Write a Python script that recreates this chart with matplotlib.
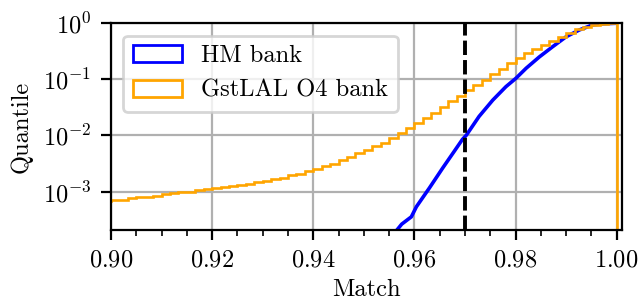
import numpy as np
import matplotlib
matplotlib.use("Agg")
import matplotlib.pyplot as plt
from matplotlib.patches import Patch
from matplotlib.ticker import MultipleLocator, NullLocator

plt.rcParams.update({
    "font.family": "serif",
    "font.serif": ["cmr10"],
    "mathtext.fontset": "cm",
    "axes.formatter.use_mathtext": True,
    "font.size": 8.8,
})

# GstLAL O4 bank: cumulative quantile per match bin (bins of width 1/600)
gstlal_bin_edges = np.linspace(0.9 - 2 / 600, 1.0, 63)
gstlal_quantile = [
    6.5e-4, 6.8e-4,
    7.1e-4, 7.2e-4, 7.6e-4, 7.9e-4, 8.1e-4, 8.5e-4, 8.9e-4, 9.3e-4, 9.8e-4, 1.00e-3,
    1.05e-3, 1.10e-3, 1.15e-3, 1.20e-3, 1.26e-3, 1.32e-3, 1.38e-3, 1.48e-3, 1.55e-3, 1.66e-3,
    1.78e-3, 1.95e-3, 2.09e-3, 2.29e-3, 2.51e-3, 2.82e-3, 3.16e-3, 3.63e-3, 4.17e-3, 4.90e-3,
    5.62e-3, 6.46e-3, 7.41e-3, 8.91e-3, 1.10e-2, 1.35e-2, 1.66e-2, 2.04e-2, 2.51e-2, 3.24e-2,
    4.17e-2, 5.01e-2, 6.46e-2, 7.94e-2, 9.77e-2, 0.123, 0.155, 0.195, 0.240, 0.295,
    0.347, 0.417, 0.490, 0.575, 0.676, 0.776, 0.861, 0.933, 0.977, 1.0,
]

# HM bank: cumulative quantile
hm_match = [0.9560, 0.9565, 0.9575, 0.9594, 0.9604, 0.9630, 0.9656, 0.9679, 0.9695, 0.9703,
            0.9728, 0.9755, 0.9781, 0.9801, 0.9821, 0.9847, 0.9873, 0.9900, 0.9926, 0.9952,
            0.9972, 0.9997]
hm_quantile = [1.78e-4, 2.04e-4, 2.63e-4, 3.55e-4, 5.37e-4, 1.17e-3, 2.63e-3, 5.25e-3, 8.51e-3, 1.02e-2,
               2.19e-2, 4.27e-2, 7.41e-2, 0.105, 0.158, 0.251, 0.380, 0.575, 0.759, 0.933,
               0.977, 1.0]

match_threshold = 0.97
series_labels = ["HM bank", "GstLAL O4 bank"]
series_colors = ["blue", "orange"]

fig = plt.figure(figsize=(3.2, 1.505), dpi=200)
ax = fig.add_axes([0.1734, 0.2349, 0.798, 0.6877])

ax.plot(hm_match, hm_quantile, color=series_colors[0], lw=1.3)
ax.hist(gstlal_bin_edges[:-1], bins=gstlal_bin_edges, weights=gstlal_quantile,
        histtype="step", color=series_colors[1], lw=0.95, log=True)
ax.axvline(match_threshold, color="black", ls=(0, (3.7, 1.3)), lw=1.4)

ax.set_yscale("log", nonpositive="clip")
ax.set_xlim(0.9, 1.001)
ax.set_ylim(10 ** -3.69, 1.0)
ax.xaxis.set_major_locator(MultipleLocator(0.02))
ax.xaxis.set_minor_locator(MultipleLocator(0.005))
ax.yaxis.set_minor_locator(NullLocator())
ax.grid(True, which="major")
ax.set_xlabel("Match", labelpad=2.5)
ax.set_ylabel("Quantile", labelpad=3.5)

handles = [Patch(facecolor="none", edgecolor=c, lw=1.0) for c in series_colors]
ax.legend(handles, series_labels, loc="upper left")

fig.savefig("out.png", dpi=200)
